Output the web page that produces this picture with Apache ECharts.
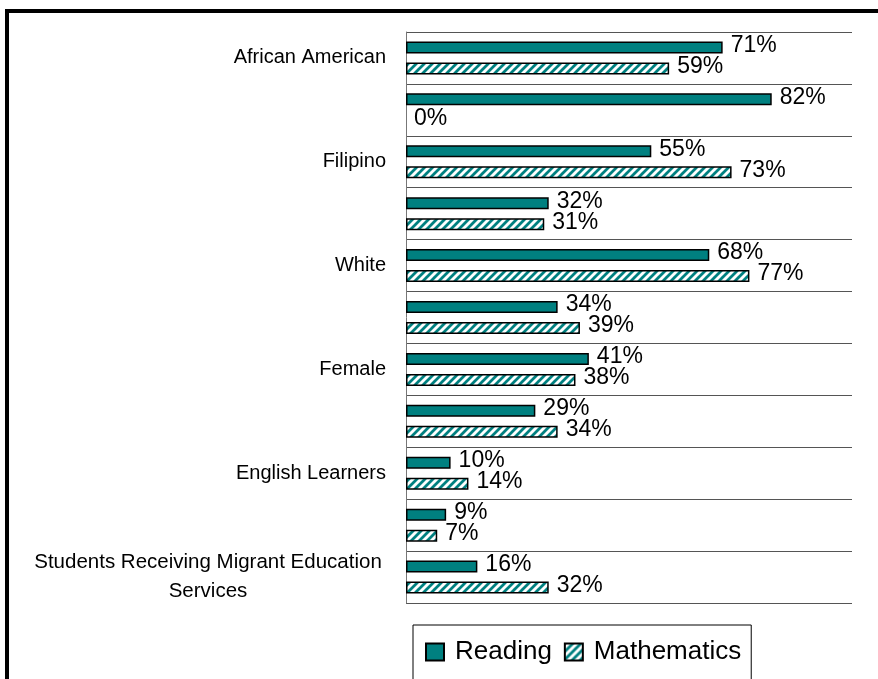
<!DOCTYPE html>
<html>
<head>
<meta charset="utf-8">
<script src="https://cdn.jsdelivr.net/npm/echarts@6/dist/echarts.min.js"></script>
<style>
  html, body { margin: 0; padding: 0; background: #fff; }
  #chart { width: 878px; height: 679px; }
</style>
</head>
<body>
<div id="chart"></div>
<script>
// 分组名称 (every other label is hidden in the original)
const categories = [
  'African American',
  'Asian',
  'Filipino',
  'Hispanic or Latino',
  'White',
  'Male',
  'Female',
  'Socioeconomically Disadvantaged',
  'English Learners',
  'Students with Disabilities',
  'Students Receiving Migrant Education Services'
]
const reading = [71, 82, 55, 32, 68, 34, 41, 29, 10, 9, 16]
const mathematics = [59, 0, 73, 31, 77, 39, 38, 34, 14, 7, 32]

const TEAL = '#008080'
const FONT = "'Liberation Sans', Arial, sans-serif"

// 斜线填充
function hatch () {
  const c = document.createElement('canvas')
  c.width = 8
  c.height = 8
  const ctx = c.getContext('2d')
  ctx.fillStyle = '#fff'
  ctx.fillRect(0, 0, 8, 8)
  ctx.strokeStyle = TEAL
  ctx.lineWidth = 2.8
  ctx.beginPath()
  ctx.moveTo(-2, 10); ctx.lineTo(10, -2)
  ctx.moveTo(-6, 6); ctx.lineTo(6, -6)
  ctx.moveTo(2, 14); ctx.lineTo(14, 2)
  ctx.stroke()
  return c
}
const hatchPattern = { image: hatch(), repeat: 'repeat' }

// 0值不画边框
function toItems (arr) {
  return arr.map(v => v === 0 ? { value: v, itemStyle: { borderWidth: 0 } } : v)
}

const chart = echarts.init(document.getElementById('chart'))
const valueLabel = {
  show: true,
  position: 'right',
  distance: 8,
  offset: [0, -2],
  color: '#000',
  fontFamily: FONT,
  fontSize: 23,
  formatter: '{c}%'
}

chart.setOption({
  animation: false,
  graphic: [
    {
      type: 'rect',
      shape: { x: 7, y: 11, width: 900, height: 700 },
      style: { fill: 'none', stroke: '#000', lineWidth: 4 },
      z: 10
    }
  ],
  grid: {
    left: 406,
    right: 26,
    top: 32,
    bottom: 76
  },
  legend: {
    left: 413,
    top: 625,
    padding: [14, 10, 40, 12],
    borderColor: '#000',
    borderWidth: 1,
    itemGap: 12,
    itemWidth: 18,
    itemHeight: 17,
    icon: 'rect',
    textStyle: {
      fontFamily: FONT,
      fontSize: 26,
      color: '#000',
      padding: [0, 0, 0, 6]
    },
    data: ['Reading', 'Mathematics']
  },
  xAxis: {
    type: 'value',
    min: 0,
    max: 100,
    show: false
  },
  yAxis: {
    type: 'category',
    inverse: true,
    data: categories,
    axisTick: { show: false },
    axisLine: { lineStyle: { color: '#777', width: 1 } },
    splitLine: { show: true, interval: 0, lineStyle: { color: '#555', width: 1 } },
    axisLabel: {
      interval: 1,
      margin: 20,
      color: '#000',
      fontFamily: FONT,
      fontSize: 20,
      formatter (v) {
        if (v.length > 30) {
          return '{m|Students Receiving Migrant Education\nServices}'
        }
        return v
      },
      rich: {
        m: {
          width: 356,
          align: 'center',
          fontFamily: FONT,
          fontSize: 20.5,
          lineHeight: 29,
          color: '#000'
        }
      }
    }
  },
  series: [
    {
      name: 'Reading',
      type: 'bar',
      data: toItems(reading),
      barWidth: 12,
      barGap: '75%',
      itemStyle: { color: TEAL, borderColor: '#000', borderWidth: 1.5 },
      label: valueLabel
    },
    {
      name: 'Mathematics',
      type: 'bar',
      data: toItems(mathematics),
      barWidth: 12,
      itemStyle: { color: hatchPattern, borderColor: '#000', borderWidth: 1.5 },
      label: valueLabel
    }
  ]
})
</script>
</body>
</html>
